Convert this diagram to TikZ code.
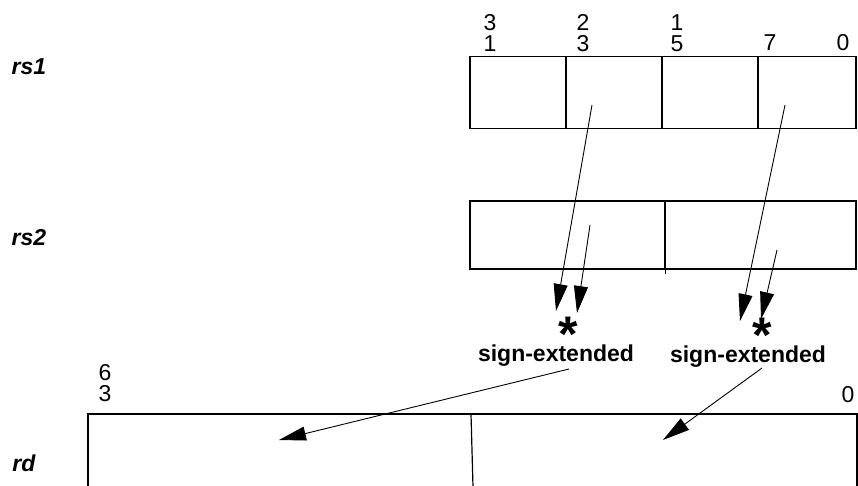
\documentclass[tikz,border=0pt]{standalone}
\usepackage{fontspec}
\setmainfont{Liberation Sans}
\usetikzlibrary{arrows.meta}
\begin{document}
\begin{tikzpicture}[x=1pt,y=-1pt,
  field/.style={draw, line width=1.6pt, inner sep=0pt, minimum height=72pt},
  num/.style={font=\fontsize{23}{21}\selectfont, align=center, inner sep=0pt},
  reg/.style={font=\fontsize{23}{23}\selectfont\bfseries\itshape, inner sep=0pt},
  se/.style={font=\fontsize{23}{23}\selectfont\bfseries, inner sep=0pt},
  star/.style={font=\fontsize{50}{50}\selectfont\bfseries, inner sep=0pt, anchor=south},
  arr/.style={line width=0.9pt, -{Triangle[length=27pt,width=14pt]}}]
\useasboundingbox (0,0) rectangle (858,486);
% register names
\node[reg] (lrs1) at (29,67) {rs1};
\node[reg] (lrs2) at (29,238) {rs2};
\node[reg] (lrd) at (24,463) {rd};
% rs1 bit labels
\node[num] (b31) at (490,33) {3\\1};
\node[num] (b23) at (583,33) {2\\3};
\node[num] (b15) at (677,33) {1\\5};
\node[num] (b7) at (770,43) {7};
\node[num] (b0) at (843,43) {0};
% rs1 fields
\node[field, minimum width=96pt] (r1a) at (518,92.5) {};
\node[field, minimum width=96pt] (r1b) at (614,92.5) {};
\node[field, minimum width=96pt] (r1c) at (710,92.5) {};
\node[field, minimum width=98pt] (r1d) at (807,92.5) {};
% rs2 fields
\node[field, minimum width=195pt, minimum height=68pt] (r2a) at (567.5,235) {};
\node[field, minimum width=191pt, minimum height=68pt] (r2b) at (760.5,235) {};
\draw[line width=1.2pt] (r2a.south east) -- ++(0,4) coordinate (r2t);
% rd
\node[num] (b63) at (105,383) {6\\3};
\node[num] (bd0) at (848,395) {0};
\draw[line width=1.6pt] (88,487) coordinate (rdbl) -- (88,414) coordinate (rdtl) -- (857,414) coordinate (rdtr) -- (857,487) coordinate (rdbr);
\draw[line width=1.2pt] (471,414) coordinate (rdm1) -- (473,487) coordinate (rdm2);
% products
\node[star] (st1) at (568,337) {\raisebox{-15pt}[13pt][0pt]{*}};
\node[star] (st2) at (762,338) {\raisebox{-15pt}[13pt][0pt]{*}};
\node[se] (se1) at (556,356) {sign-extended};
\node[se] (se2) at (748,357) {sign-extended};
% arrow points
\coordinate (p1) at (592,105);
\coordinate (q1) at (556,311);
\coordinate (p2) at (590,225);
\coordinate (q2) at (577,313);
\coordinate (p3) at (785,105);
\coordinate (q3) at (740,321);
\coordinate (p4) at (777,250);
\coordinate (q4) at (761,319);
\coordinate (p5) at (569,369);
\coordinate (q5) at (279,440);
\coordinate (p6) at (762,368);
\coordinate (q6) at (663,440);
\draw[arr] (p1) -- (q1);
\draw[arr] (p2) -- (q2);
\draw[arr] (p3) -- (q3);
\draw[arr] (p4) -- (q4);
\draw[arr] (p5) -- (q5);
\draw[arr] (p6) -- (q6);
\end{tikzpicture}
\end{document}
